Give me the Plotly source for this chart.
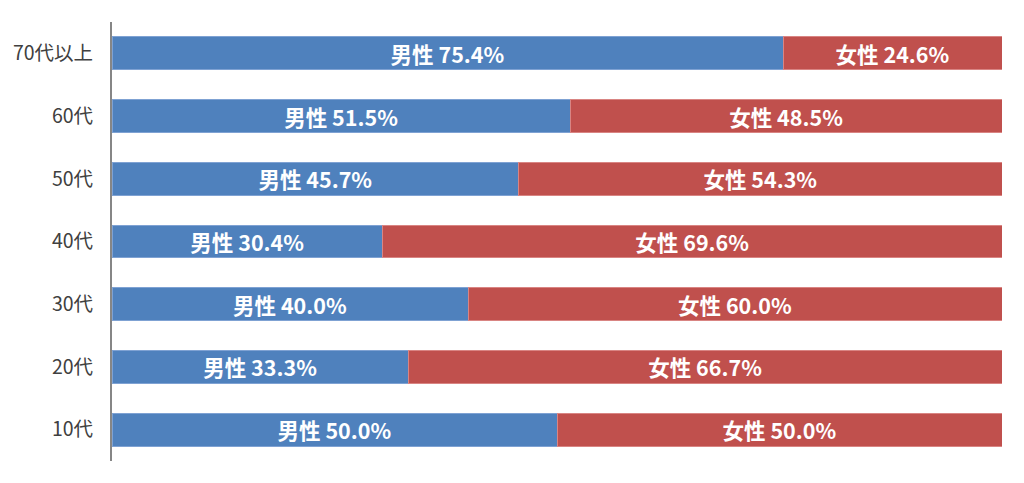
import plotly.graph_objects as go

categories = ["10代", "20代", "30代", "40代", "50代", "60代", "70代以上"]
male = [50.0, 33.3, 40.0, 30.4, 45.7, 51.5, 75.4]
female = [50.0, 66.7, 60.0, 69.6, 54.3, 48.5, 24.6]

FONT = "Noto Sans CJK JP"

fig = go.Figure()
fig.add_trace(go.Bar(
    y=categories, x=male, orientation="h", name="男性",
    marker=dict(color="#4F81BD", line=dict(color="#7FA2D3", width=1)),
    text=[f"男性 {v:.1f}%" for v in male],
    textposition="inside", insidetextanchor="middle",
    textfont=dict(family=FONT, size=21.5, color="white", weight="bold"),
    hoverinfo="skip",
))
fig.add_trace(go.Bar(
    y=categories, x=female, orientation="h", name="女性",
    marker=dict(color="#C0504D", line=dict(color="#D98583", width=1)),
    text=[f"女性 {v:.1f}%" for v in female],
    textposition="inside", insidetextanchor="middle",
    textfont=dict(family=FONT, size=21.5, color="white", weight="bold"),
    hoverinfo="skip",
))

fig.update_layout(
    barmode="stack",
    bargap=0.475,
    width=1016, height=475,
    margin=dict(l=104, r=22, t=14, b=22, autoexpand=False),
    paper_bgcolor="white", plot_bgcolor="white",
    showlegend=False,
    font=dict(family=FONT, color="#404040"),
    uniformtext=dict(minsize=21, mode="show"),
    xaxis=dict(range=[0, 100], visible=False, showgrid=False, zeroline=False,
               fixedrange=True, automargin=False),
    yaxis=dict(
        categoryorder="array", categoryarray=categories,
        showline=True, linecolor="#868686", linewidth=2,
        ticks="", ticklabelstandoff=13, automargin=False,
        tickfont=dict(family=FONT, size=19.5, color="#404040"),
        showgrid=False, zeroline=False, fixedrange=True,
    ),
)

fig.write_html("out.html")
